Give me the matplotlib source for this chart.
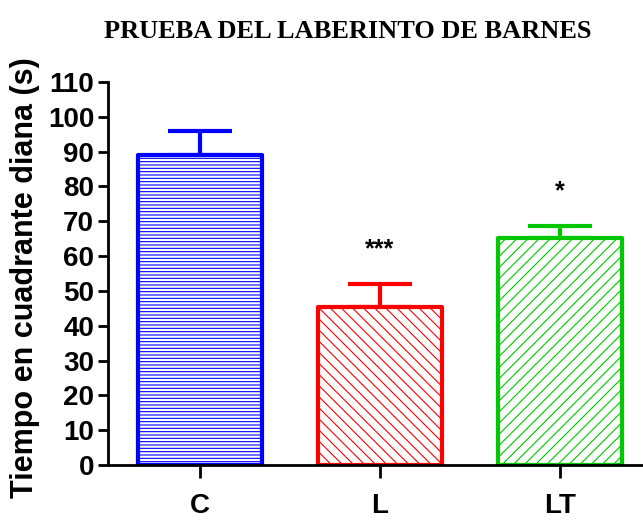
import matplotlib
matplotlib.use("Agg")
import matplotlib.pyplot as plt

# mean time in the target quadrant per group, with SEM (upper only)
groups = ["C", "L", "LT"]
means = [89, 45.4, 65.2]
sems = [7, 6.6, 3.5]
stars = ["", "***", "*"]
colors = ["#0000ff", "#ff0000", "#00c800"]
hatches = ["-----", "\\\\\\", "///"]

plt.rcParams["font.family"] = ["Liberation Sans", "DejaVu Sans"]
plt.rcParams["hatch.linewidth"] = 0.8

fig = plt.figure(figsize=(6.43, 5.22), dpi=100)
ax = fig.add_axes([0.168, 0.109, 0.832, 0.734])

x = range(len(groups))
for i in x:
    plt.rcParams["hatch.color"] = colors[i]
    ax.bar(i, means[i], width=0.69, facecolor="white", edgecolor=colors[i],
           linewidth=3, hatch=hatches[i], joinstyle="round", zorder=2)
    eb = ax.errorbar(i, means[i], yerr=[[0], [sems[i]]], ecolor=colors[i],
                     elinewidth=3, capsize=23, capthick=3, zorder=1)
    for cap in eb[1]:
        cap.set_solid_capstyle("round")
    if stars[i]:
        ax.text(i, means[i] + sems[i] + 6.5, stars[i], ha="center", va="bottom",
                fontsize=18, fontweight="bold")

ax.set_xlim(-0.51, 2.46)
ax.set_ylim(0, 110)
ax.set_yticks(range(0, 111, 10))
ax.set_xticks(list(x))
ax.set_xticklabels(groups)
ax.spines["top"].set_visible(False)
ax.spines["right"].set_visible(False)
ax.spines["left"].set_linewidth(2)
ax.spines["bottom"].set_linewidth(2)
ax.tick_params(axis="y", width=2, length=7, labelsize=20, pad=3)
ax.tick_params(axis="x", width=2, length=9, labelsize=20, pad=11)
for lab in ax.get_xticklabels() + ax.get_yticklabels():
    lab.set_fontweight("bold")

ax.set_ylabel("Tiempo en cuadrante diana (s)", fontsize=22, fontweight="bold")
ax.yaxis.set_label_coords(-0.128, 0.49)
fig.text(0.541, 0.939, "PRUEBA DEL LABERINTO DE BARNES", ha="center", va="center",
         fontsize=19, fontweight="bold", family="Liberation Serif")

fig.savefig("out.png", dpi=100)
